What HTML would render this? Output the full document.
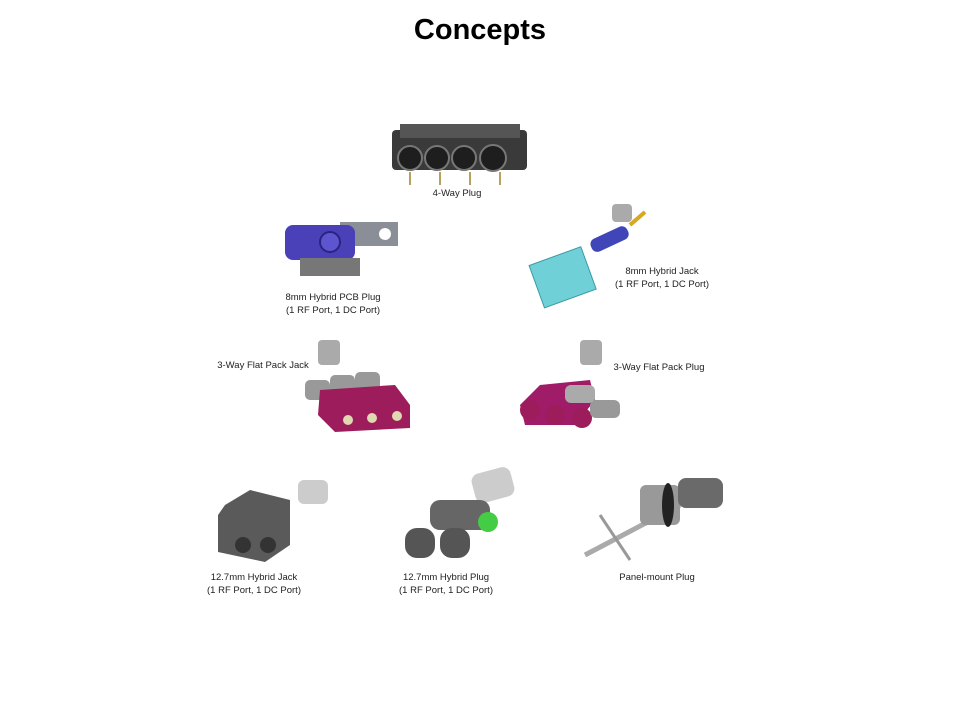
<!DOCTYPE html>
<html><head><style>
body{margin:0;width:960px;height:720px;background:#fff;position:relative;overflow:hidden;font-family:"Liberation Sans",sans-serif}
.t{position:absolute;font-size:9.5px;color:#222;text-align:center;line-height:12.5px;white-space:nowrap}
h1{position:absolute;top:14px;left:0;width:960px;text-align:center;margin:0;font-size:29px;font-weight:bold;color:#000}
svg{position:absolute;left:0;top:0}
</style></head><body>
<h1>Concepts</h1>
<svg width="960" height="720">
<rect x="392" y="130" width="135" height="40" rx="4" fill="#3a3a3a"/>
<rect x="400" y="124" width="120" height="14" fill="#555"/>
<g fill="#1e1e1e" stroke="#777" stroke-width="2">
<circle cx="410" cy="158" r="12"/><circle cx="437" cy="158" r="12"/><circle cx="464" cy="158" r="12"/><circle cx="493" cy="158" r="13"/></g>
<g stroke="#b8a060" stroke-width="2"><line x1="410" y1="172" x2="410" y2="185"/><line x1="440" y1="172" x2="440" y2="185"/><line x1="470" y1="172" x2="470" y2="185"/><line x1="500" y1="172" x2="500" y2="185"/></g>
<rect x="340" y="222" width="58" height="24" fill="#8a8e96"/><circle cx="385" cy="234" r="6" fill="#fff"/>
<rect x="285" y="225" width="70" height="35" rx="8" fill="#4a40b8"/>
<circle cx="330" cy="242" r="10" fill="#5d55d0" stroke="#2a2480" stroke-width="2"/>
<rect x="300" y="258" width="60" height="18" fill="#777"/>
<rect x="535" y="255" width="55" height="45" fill="#6fd0d8" stroke="#3a9aa4" transform="rotate(-20 562 277)"/>
<rect x="590" y="232" width="40" height="14" rx="6" fill="#4046b8" transform="rotate(-25 610 240)"/>
<rect x="612" y="204" width="20" height="18" rx="4" fill="#aaa"/>
<line x1="630" y1="225" x2="645" y2="212" stroke="#d8a820" stroke-width="4"/>
<rect x="318" y="340" width="22" height="25" rx="4" fill="#aaa"/>
<rect x="305" y="380" width="25" height="20" rx="5" fill="#999"/><rect x="330" y="375" width="25" height="20" rx="5" fill="#999"/><rect x="355" y="372" width="25" height="20" rx="5" fill="#999"/>
<polygon points="320,390 395,385 410,405 410,428 335,432 318,415" fill="#9c1c5c"/>
<g fill="#e0d8b0"><circle cx="348" cy="420" r="5"/><circle cx="372" cy="418" r="5"/><circle cx="397" cy="416" r="5"/></g>
<rect x="580" y="340" width="22" height="25" rx="4" fill="#aaa"/>
<polygon points="520,405 540,385 590,380 595,400 575,425 525,425" fill="#a01c68"/>
<g fill="#9c1c5c"><circle cx="530" cy="410" r="10"/><circle cx="555" cy="415" r="10"/><circle cx="582" cy="418" r="10"/></g>
<rect x="590" y="400" width="30" height="18" rx="6" fill="#999"/><rect x="565" y="385" width="30" height="18" rx="6" fill="#aaa"/>
<rect x="298" y="480" width="30" height="24" rx="6" fill="#ccc"/>
<polygon points="225,505 250,490 290,500 290,545 265,562 218,552 218,515" fill="#5a5a5a"/>
<circle cx="243" cy="545" r="8" fill="#333"/><circle cx="268" cy="545" r="8" fill="#333"/>
<rect x="473" y="470" width="40" height="30" rx="8" fill="#ccc" transform="rotate(-15 493 485)"/>
<rect x="430" y="500" width="60" height="30" rx="10" fill="#666"/>
<circle cx="488" cy="522" r="10" fill="#4c4" />
<rect x="405" y="528" width="30" height="30" rx="12" fill="#555"/><rect x="440" y="528" width="30" height="30" rx="12" fill="#555"/>
<line x1="585" y1="555" x2="680" y2="505" stroke="#aaa" stroke-width="5"/>
<line x1="600" y1="515" x2="630" y2="560" stroke="#999" stroke-width="3"/>
<rect x="640" y="485" width="40" height="40" rx="6" fill="#999"/>
<ellipse cx="668" cy="505" rx="6" ry="22" fill="#222"/>
<rect x="678" y="478" width="45" height="30" rx="8" fill="#6a6a6a"/>
</svg>
<div class="t" style="left:407px;top:188px;width:100px">4-Way Plug</div>
<div class="t" style="left:263px;top:292px;width:140px">8mm Hybrid PCB Plug<br>(1 RF Port, 1 DC Port)</div>
<div class="t" style="left:592px;top:266px;width:140px">8mm Hybrid Jack<br>(1 RF Port, 1 DC Port)</div>
<div class="t" style="left:213px;top:360px;width:100px">3-Way Flat Pack Jack</div>
<div class="t" style="left:609px;top:362px;width:100px">3-Way Flat Pack Plug</div>
<div class="t" style="left:184px;top:572px;width:140px">12.7mm Hybrid Jack<br>(1 RF Port, 1 DC Port)</div>
<div class="t" style="left:376px;top:572px;width:140px">12.7mm Hybrid Plug<br>(1 RF Port, 1 DC Port)</div>
<div class="t" style="left:597px;top:572px;width:120px">Panel-mount Plug</div>
</body></html>
